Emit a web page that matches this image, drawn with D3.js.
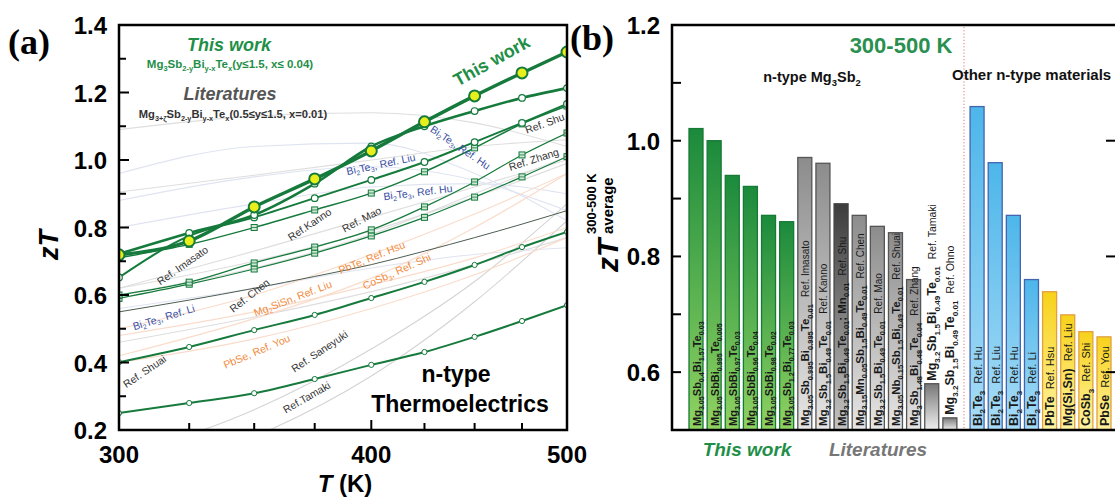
<!DOCTYPE html>
<html><head><meta charset="utf-8">
<script src="https://cdn.jsdelivr.net/npm/d3@7"></script>
<style>body{margin:0;background:#fff;overflow:hidden} svg{font-family:"Liberation Sans",Arial,sans-serif;display:block}</style>
</head><body><svg id="c" width="1115" height="500"></svg>
<script>
// ---------- DATA: panel (a) ----------
const temps = [300,325,350,375,400,425,450,475,500];
const xTicksA = [300,325,350,375,400,425,450,475,500];
const xLabelsA = [300,400,500];
const yLabelsA = [0.2,0.4,0.6,0.8,1.0,1.2,1.4];
const twMain = [0.719,0.760,0.861,0.944,1.027,1.113,1.190,1.258,1.320];
const twB = [0.722,0.784,0.837,0.930,1.040,1.100,1.145,1.184,1.213];
const twC = [0.652,0.775,0.830,0.887,0.941,0.994,1.053,1.110,1.166];
const litD = [0.710,0.750,0.800,0.852,0.902,0.965,1.036,1.107,1.160];
const litE = [0.600,0.638,0.695,0.742,0.793,0.861,0.935,1.015,1.080];
const litF = [0.590,0.632,0.677,0.724,0.775,0.830,0.890,0.950,1.010];
const litG = [0.401,0.446,0.496,0.541,0.591,0.639,0.689,0.742,0.787];
const litH = [0.250,0.280,0.309,0.351,0.393,0.431,0.476,0.523,0.570];
const chenLine = [0.550,0.585,0.620,0.655,0.690,0.730,0.770,0.810,0.850];
const temps5 = [300,350,400,450,500];
const faintGrey1 = [0.905,0.955,1.000,1.040,1.060];
const faintGrey2 = [1.090,1.130,1.140,1.110,1.040];
const faintImasato = [0.620,0.730,0.830,0.920,1.000];
const faintMao = [0.620,0.700,0.790,0.890,0.990];
const faintZhang = [0.600,0.680,0.780,0.900,1.010];
const faintShuai = [0.460,0.535,0.610,0.690,0.770];
const faintSaneyuki = [0.120,0.260,0.440,0.640,0.870];
const faintTamaki = [0.050,0.180,0.360,0.580,0.820];
const blueHu1 = [0.960,1.040,1.050,0.960,0.820];
const blueLiu = [0.880,0.950,0.980,0.940,0.850];
const blueHu2 = [0.800,0.870,0.920,0.930,0.900];
const blueLi = [0.560,0.620,0.680,0.720,0.740];
const orPbTe = [0.500,0.600,0.720,0.840,0.960];
const orCoSb = [0.420,0.530,0.650,0.800,0.960];
const orMgSiSn = [0.480,0.550,0.630,0.710,0.800];
const orPbSe = [0.400,0.470,0.560,0.660,0.770];

// ---------- DATA: panel (b) ----------
const barFormulas = [
 "Mg_{3.05}Sb_{0.4}Bi_{1.57}Te_{0.03}","Mg_{3.05}SbBi_{0.995}Te_{0.005}","Mg_{3.05}SbBi_{0.97}Te_{0.03}",
 "Mg_{3.05}SbBi_{0.96}Te_{0.04}","Mg_{3.05}SbBi_{0.98}Te_{0.02}","Mg_{3.05}Sb_{1.2}Bi_{0.77}Te_{0.03}",
 "Mg_{3.05}Sb_{0.995}Bi_{0.995}Te_{0.01}","Mg_{3.2}Sb_{1.5}Bi_{0.49}Te_{0.01}","Mg_{3.2}Sb_{1.5}Bi_{0.49}Te_{0.01}; Mn_{0.01}",
 "Mg_{3.15}Mn_{0.05}Sb_{1.5}Bi_{0.49}Te_{0.01}","Mg_{3.2}Sb_{1.5}Bi_{0.49}Te_{0.01}","Mg_{3.05}Nb_{0.15}Sb_{1.5}Bi_{0.49}Te_{0.01}",
 "Mg_{3}Sb_{1.48}Bi_{0.48}Te_{0.04}","Mg_{3.2}Sb_{1.5}Bi_{0.49}Te_{0.01}","Mg_{3.2}Sb_{1.5}Bi_{0.49}Te_{0.01}",
 "Bi_{2}Te_{3}","Bi_{2}Te_{3}","Bi_{2}Te_{3}","Bi_{2}Te_{3}","PbTe","Mg(Si,Sn)","CoSb_{3}","PbSe"];
const barRefs = ["","","","","","",
 "Ref. Imasato","Ref. Kanno","Ref. Shu","Ref. Chen","Ref. Mao","Ref. Shuai","Ref. Zhang","Ref. Tamaki","Ref. Ohno",
 "Ref. Hu","Ref. Liu","Ref. Hu","Ref. Li","Ref. Hsu","Ref. Liu","Ref. Shi","Ref. You"];
const barGroups = ["tw","tw","tw","tw","tw","tw","lit","lit","litDark","lit","lit","lit","lit","litShort","litShort",
 "bite","bite","bite","bite","other","other","other","other"];
const barValues = [1.021,1.000,0.940,0.921,0.871,0.860, 0.971,0.961,0.891,0.871,0.852,0.841,0.760,0.580,0.521,
 1.059,0.962,0.871,0.760,0.739,0.699,0.670,0.661];
const barSlots = [0,1,2,3,4,5,6,7,8,9,10,11,12,13,14,15.5,16.5,17.5,18.5,19.5,20.5,21.5,22.5];
const yTicksB = [0.6,0.8,1.0,1.2];

// ---------- helpers ----------
const svg = d3.select("#c");
function rich(t, str, fs){
  const parts = str.split(/(_\{[^}]*\}|\^\{[^}]*\})/).filter(s=>s.length);
  let shift = 0;
  parts.forEach(p=>{
    let m = p.match(/^_\{(.*)\}$/);
    if(m){ t.append("tspan").attr("font-size",fs*0.65).attr("dy",fs*0.3-shift).text(m[1]); shift=fs*0.3; return; }
    m = p.match(/^\^\{(.*)\}$/);
    if(m){ t.append("tspan").attr("font-size",fs*0.65).attr("dy",-fs*0.4-shift).text(m[1]); shift=-fs*0.4; return; }
    t.append("tspan").attr("font-size",fs).attr("dy",-shift).text(p); shift=0;
  });
  return shift;
}
function label(g, str, cx, cy, ang, fs, color, weight){
  const t = g.append("text").attr("transform",`translate(${cx},${cy}) rotate(${ang})`)
    .attr("text-anchor","middle").attr("dominant-baseline","middle").attr("fill",color)
    .attr("font-size",fs).attr("font-weight",weight||"normal");
  rich(t,str,fs);
  return t;
}

// ---------- panel (a) ----------
const L=119,R=567,T=25,B=430;
const xA = d3.scaleLog().domain([300,500]).range([L,R]);
const yA = d3.scaleLinear().domain([0.2,1.4]).range([B,T]);
const gA = svg.append("g");
svg.append("defs").append("clipPath").attr("id","clipA").append("rect").attr("x",L).attr("y",T).attr("width",R-L).attr("height",B-T);
const plotA = gA.append("g").attr("clip-path","url(#clipA)");
const lineA = d3.line().x(d=>xA(d[0])).y(d=>yA(d[1])).curve(d3.curveMonotoneX);
function drawLine(ts, vals, color, w, op){
  plotA.append("path").attr("d",lineA(ts.map((t,i)=>[t,vals[i]]))).attr("fill","none")
   .attr("stroke",color).attr("stroke-width",w).attr("opacity",op||1);
}
const fg="#dedede", fo="#f9dccb", fb="#e0e4f1";
[[faintGrey1,fg],[faintGrey2,fg],[faintImasato,fg],[faintMao,fg],[faintZhang,fg],[faintShuai,fg],[faintSaneyuki,"#d4d4d4"],[faintTamaki,"#d4d4d4"],
 [blueHu1,fb],[blueLiu,fb],[blueHu2,fb],[blueLi,fb],[orPbTe,fo],[orCoSb,fo],[orMgSiSn,fo],[orPbSe,fo]]
 .forEach(([v,c])=>drawLine(temps5,v,c,1.1));
drawLine(temps,chenLine,"#4d5d52",1);
const GR="#157a3c";
function crossSq(vals){
  const g = plotA.append("g");
  temps.forEach((t,i)=>{
    const x=xA(t), y=yA(vals[i]);
    g.append("rect").attr("x",x-3).attr("y",y-3).attr("width",6).attr("height",6).attr("fill","#cfe8d6").attr("stroke",GR).attr("stroke-width",1);
    g.append("line").attr("x1",x-3).attr("x2",x+3).attr("y1",y).attr("y2",y).attr("stroke",GR).attr("stroke-width",0.8);
  });
}
function circles(vals, r, fill, sw){
  plotA.append("g").selectAll("circle").data(temps).join("circle")
   .attr("cx",d=>xA(d)).attr("cy",(d,i)=>yA(vals[i])).attr("r",r).attr("fill",fill).attr("stroke",GR).attr("stroke-width",sw);
}
drawLine(temps,litF,GR,1.2); crossSq(litF);
drawLine(temps,litE,GR,1.2); crossSq(litE);
drawLine(temps,litD,GR,1.4); crossSq(litD);
drawLine(temps,litH,GR,2); circles(litH,2.6,"#fff",1);
drawLine(temps,litG,GR,2); circles(litG,2.6,"#fff",1);
drawLine(temps,twC,GR,2); circles(twC,3.3,"#fff",1.2);
drawLine(temps,twB,GR,2.6); circles(twB,3.3,"#fff",1.2);
drawLine(temps,twMain,GR,3.4); circles(twMain,5.5,"#e8ef1a",2);

// axes (a)
gA.append("rect").attr("x",L).attr("y",T).attr("width",R-L).attr("height",B-T).attr("fill","none").attr("stroke","#000").attr("stroke-width",2.5);
xTicksA.forEach(t=>{ const maj=xLabelsA.includes(t);
  gA.append("line").attr("x1",xA(t)).attr("x2",xA(t)).attr("y1",B).attr("y2",B-(maj?10:7)).attr("stroke","#000").attr("stroke-width",2);});
d3.range(0.2,1.41,0.1).forEach(v=>{ const maj=Math.round(v*10)%2===0;
  gA.append("line").attr("x1",L).attr("x2",L+(maj?10:7)).attr("y1",yA(v)).attr("y2",yA(v)).attr("stroke","#000").attr("stroke-width",2);});
xLabelsA.forEach(t=>gA.append("text").attr("x",xA(t)).attr("y",463).attr("text-anchor","middle").attr("font-size",24).attr("font-weight","bold").text(t));
yLabelsA.forEach(v=>gA.append("text").attr("x",107).attr("y",yA(v)+9).attr("text-anchor","end").attr("font-size",24).attr("font-weight","bold").text(v.toFixed(1)));
const xt = gA.append("text").attr("x",345).attr("y",492).attr("text-anchor","middle").attr("font-size",24).attr("font-weight","bold");
xt.append("tspan").attr("font-style","italic").text("T"); xt.append("tspan").text(" (K)");
gA.append("text").attr("transform","translate(58,245) rotate(-90)").attr("text-anchor","middle").attr("font-size",27).attr("font-weight","bold").attr("font-style","italic").text("zT");
gA.append("text").attr("x",8).attr("y",54).attr("font-family","'Liberation Serif',serif").attr("font-size",36).attr("font-weight","bold").text("(a)");

// texts (a)
const TWC="#1f8f48";
gA.append("text").attr("x",229).attr("y",51).attr("text-anchor","middle").attr("font-size",18).attr("font-weight","bold").attr("font-style","italic").attr("fill",TWC).text("This work");
{const t=gA.append("text").attr("x",230).attr("y",68).attr("text-anchor","middle").attr("fill",TWC).attr("font-weight","bold"); rich(t,"Mg_{3}Sb_{2-y}Bi_{y-x}Te_{x}(y≤1.5, x≤ 0.04)",11.5);}
gA.append("text").attr("x",230).attr("y",100).attr("text-anchor","middle").attr("font-size",18).attr("font-weight","bold").attr("font-style","italic").attr("fill","#555").text("Literatures");
{const t=gA.append("text").attr("x",233).attr("y",118).attr("text-anchor","middle").attr("fill","#333").attr("font-weight","bold"); rich(t,"Mg_{3+ζ}Sb_{2-y}Bi_{y-x}Te_{x}(0.5≤y≤1.5, x=0.01)",11.2);}
label(gA,"This work",492,62,-29,18,TWC,"bold");
const BL="#3b4fa3", OR="#f08a3c", DK="#333";
[["Bi_{2}Te_{3}, Ref. Liu",381,165,-12,BL],["Bi_{2}Te_{3}, Ref. Hu",460,148,34,BL],["Bi_{2}Te_{3}, Ref. Hu",418,193,-7,BL],
 ["Bi_{2}Te_{3}, Ref. Li",164,318,-17,BL],["Ref. Shu",545,124,-20,DK],["Ref. Zhang",534,160,-18,DK],["Ref.Kanno",310,225,-34,DK],
 ["Ref. Mao",362,220,-28,DK],["Ref. Imasato",183,266,-35,DK],["Ref. Chen",250,296,-38,DK],["Ref. Shuai",145,372,-34,DK],
 ["Ref. Saneyuki",320,352,-34,DK],["Ref.Tamaki",307,398,-30,DK],["PbTe, Ref. Hsu",372,258,-22,OR],["CoSb_{3}, Ref. Shi",397,272,-24,OR],
 ["Mg_{2}SiSn, Ref. Liu",293,299,-21,OR],["PbSe, Ref. You",257,352,-23,OR]]
 .forEach(d=>label(gA,d[0],d[1],d[2],d[3],10.5,d[4],"normal"));
gA.append("text").attr("x",456).attr("y",382).attr("text-anchor","middle").attr("font-size",23).attr("font-weight","bold").text("n-type");
gA.append("text").attr("x",460).attr("y",412).attr("text-anchor","middle").attr("font-size",23).attr("font-weight","bold").text("Thermoelectrics");

// ---------- panel (b) ----------
const L2=672,R2=1117;
const yB = d3.scaleLinear().domain([0.5,1.2]).range([B,T]);
const xB = d3.scaleLinear().domain([0,22.5]).range([689,1097]);
const bw = 14;
const defs = svg.select("defs");
function grad(id, top, bot){
  const g=defs.append("linearGradient").attr("id",id).attr("x1",0).attr("y1",0).attr("x2",0).attr("y2",1);
  g.append("stop").attr("offset","0%").attr("stop-color",top); g.append("stop").attr("offset","100%").attr("stop-color",bot);
}
grad("gTw","#1b8a3c","#8fd362"); grad("gLit","#8c8c8c","#e6e6e6"); grad("gLitDark","#3c3c3c","#c4c4c4");
grad("gShort","#777","#f0f0f0");
grad("gBite","#4db6ea","#a8dcf6"); grad("gOther","#f7d21a","#fff3a2");
const fills={tw:"url(#gTw)",lit:"url(#gLit)",litDark:"url(#gLitDark)",litShort:"url(#gShort)",bite:"url(#gBite)",other:"url(#gOther)"};
const strokes={tw:"#167a34",lit:"#555",litDark:"#444",litShort:"#555",bite:"#4464b0",other:"#e0a040"};
const gB = svg.append("g");
gB.selectAll("rect.bar").data(barValues).join("rect").attr("class","bar")
 .attr("x",(d,i)=>xB(barSlots[i])).attr("width",bw).attr("y",d=>yB(d)).attr("height",d=>yB(0.5)-yB(d))
 .attr("fill",(d,i)=>fills[barGroups[i]]).attr("stroke",(d,i)=>strokes[barGroups[i]]).attr("stroke-width",1.3);
barValues.forEach((v,i)=>{
  const cx = xB(barSlots[i])+bw/2;
  const grp = barGroups[i];
  let fs=11, rfs=10, y0=426;
  if(grp==="lit"||grp==="litDark"){ fs=11.5; rfs=10; }
  if(grp==="litShort"){ fs=12.5; rfs=10.5; y0=yB(v)-3; }
  if(grp==="bite"||grp==="other"){ fs=12.5; rfs=11; }
  const t = gB.append("text").attr("transform",`translate(${cx+4.5},${y0}) rotate(-90)`).attr("font-weight","bold").attr("fill","#1a1a1a");
  const sh = rich(t, barFormulas[i], fs);
  if(barRefs[i]) t.append("tspan").attr("dy",-sh).attr("dx",7).attr("font-size",rfs).attr("font-weight","normal").text(barRefs[i]);
});
gB.append("line").attr("x1",964).attr("x2",964).attr("y1",T+2).attr("y2",B).attr("stroke","#e07a7a").attr("stroke-width",1).attr("stroke-dasharray","1.2,2");
gB.append("path").attr("d",`M${R2},${T}H${L2}V${B}H${R2}`).attr("fill","none").attr("stroke","#000").attr("stroke-width",2.5);
d3.range(0.6,1.21,0.1).forEach(v=>{
  gB.append("line").attr("x1",L2).attr("x2",L2+9).attr("y1",yB(v)).attr("y2",yB(v)).attr("stroke","#000").attr("stroke-width",2);
});
[0.6,0.8,1.0].forEach(v=>gB.append("line").attr("x1",1115).attr("x2",1106).attr("y1",yB(v)).attr("y2",yB(v)).attr("stroke","#000").attr("stroke-width",2));
yTicksB.forEach(v=>gB.append("text").attr("x",660).attr("y",yB(v)+9).attr("text-anchor","end").attr("font-size",24).attr("font-weight","bold").text(v.toFixed(1)));
gB.append("text").attr("x",570).attr("y",50).attr("font-family","'Liberation Serif',serif").attr("font-size",36).attr("font-weight","bold").text("(b)");
{const g=gB.append("g").attr("transform","translate(618,272) rotate(-90)");
 g.append("text").attr("font-size",30).attr("font-weight","bold").attr("font-style","italic").text("zT");
 g.append("text").attr("x",38).attr("y",-22).attr("font-size",13).attr("font-weight","bold").text("300-500 K");
 g.append("text").attr("x",38).attr("y",-5).attr("font-size",15).attr("font-weight","bold").text("average");}
gB.append("text").attr("x",901).attr("y",53).attr("text-anchor","middle").attr("font-size",22).attr("font-weight","bold").attr("fill","#2a9050").text("300-500 K");
{const t=gB.append("text").attr("x",812).attr("y",82).attr("text-anchor","middle").attr("font-weight","bold").attr("fill","#111"); rich(t,"n-type Mg_{3}Sb_{2}",14.5);}
gB.append("text").attr("x",952).attr("y",80).attr("font-size",15).attr("font-weight","bold").attr("fill","#111").text("Other n-type materials");
gB.append("text").attr("x",747).attr("y",456).attr("text-anchor","middle").attr("font-size",19).attr("font-weight","bold").attr("font-style","italic").attr("fill",TWC).text("This work");
gB.append("text").attr("x",878).attr("y",456).attr("text-anchor","middle").attr("font-size",19).attr("font-weight","bold").attr("font-style","italic").attr("fill","#777").text("Literatures");
</script></body></html>
